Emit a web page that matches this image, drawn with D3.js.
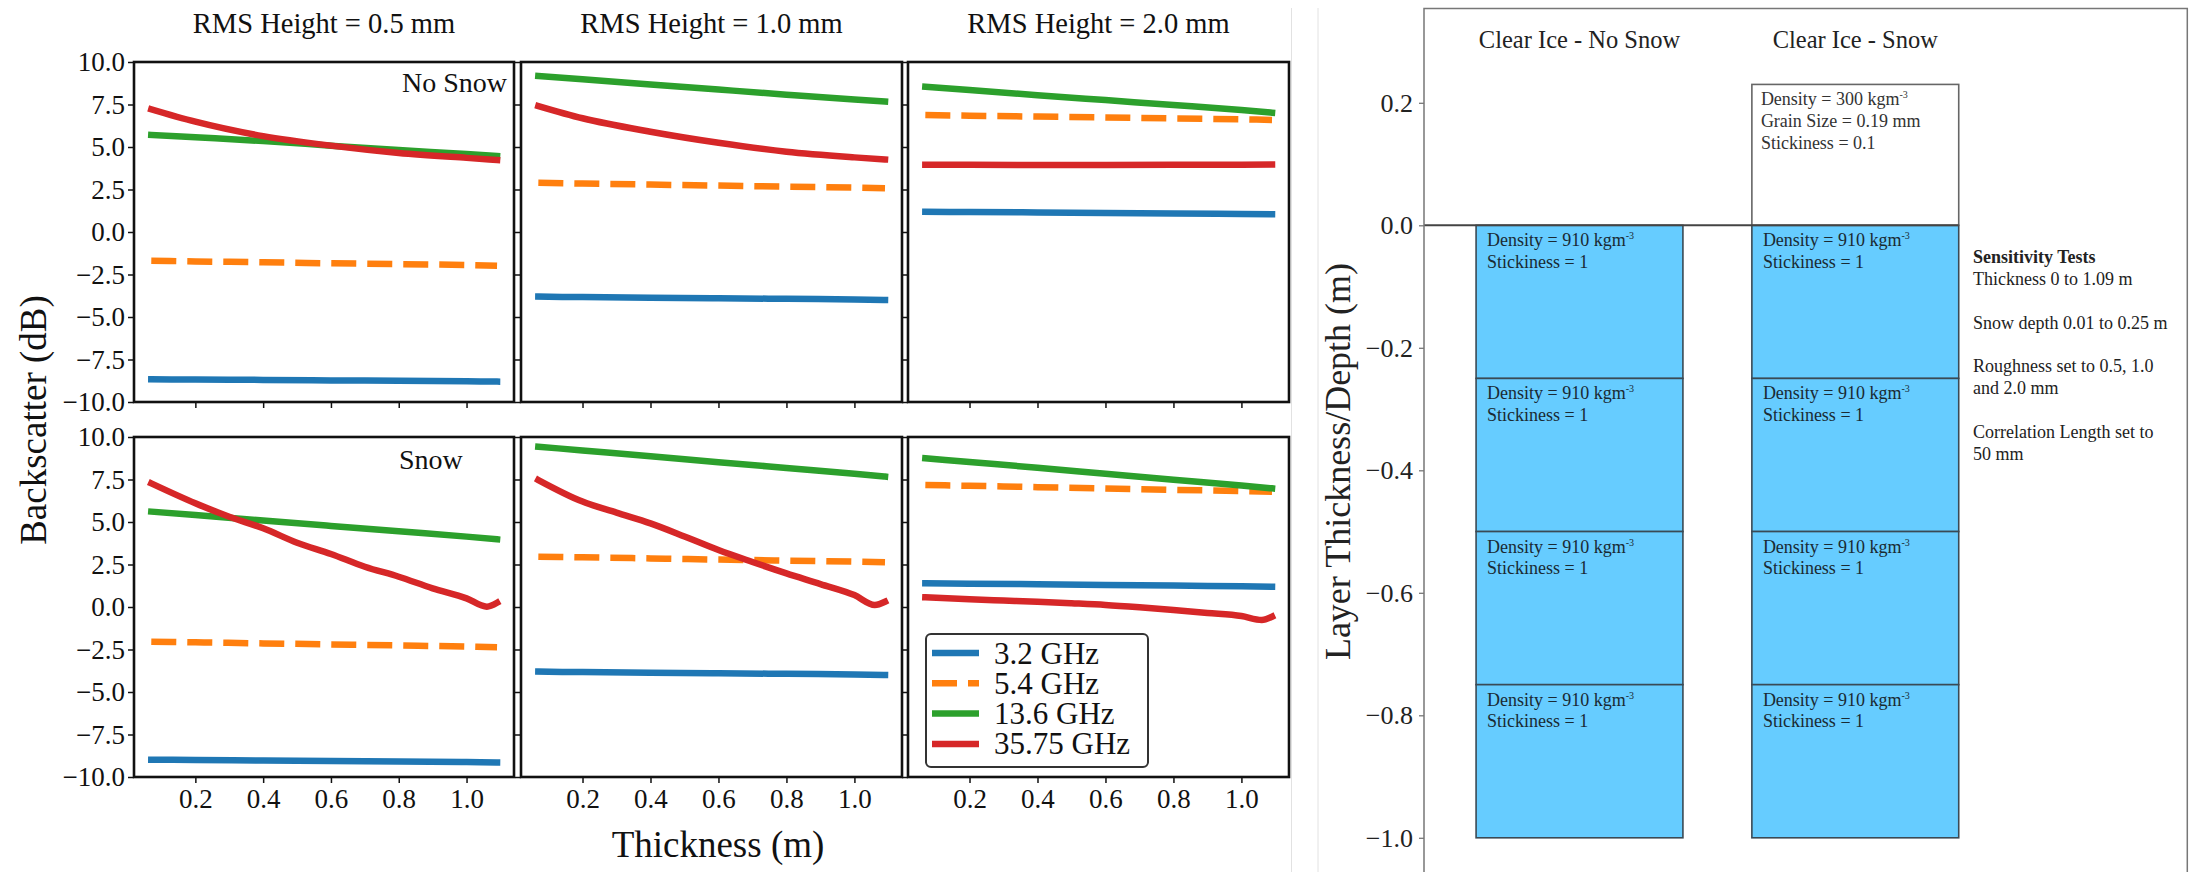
<!DOCTYPE html>
<html>
<head>
<meta charset="utf-8">
<script src="https://cdn.jsdelivr.net/npm/d3@7"></script>
<style>
body{margin:0;background:#fff}
svg{display:block}
text{font-family:"Liberation Serif","Times New Roman",serif}
</style>
</head>
<body>
<svg id="c" width="2191" height="872"></svg>
<script>
// ---------- DATA: left chart (Backscatter vs thickness) ----------
const thickness = [0.07, 0.2, 0.4, 0.6, 0.8, 1.0, 1.09];
const thicknessFine = [0.07, 0.2, 0.3, 0.4, 0.5, 0.6, 0.7, 0.8, 0.9, 1.0, 1.06, 1.09];
const frequencies = ["3.2 GHz", "5.4 GHz", "13.6 GHz", "35.75 GHz"];
const panelTitles = ["RMS Height = 0.5 mm", "RMS Height = 1.0 mm", "RMS Height = 2.0 mm"];
const rowLabels = ["No Snow", "Snow"];
const yTickValues = [-10, -7.5, -5, -2.5, 0, 2.5, 5, 7.5, 10];
const xTickValues = [0.2, 0.4, 0.6, 0.8, 1.0];

// No snow, RMS 0.5 mm
const noSnow05_f32   = [-8.66, -8.68, -8.70, -8.73, -8.75, -8.78, -8.80];
const noSnow05_f54   = [-1.69, -1.73, -1.78, -1.84, -1.89, -1.94, -1.98];
const noSnow05_f136  = [5.71, 5.57, 5.35, 5.08, 4.82, 4.59, 4.47];
const noSnow05_f3575 = [7.22, 6.49, 5.64, 5.08, 4.65, 4.36, 4.24];
// No snow, RMS 1.0 mm
const noSnow10_f32   = [-3.80, -3.83, -3.87, -3.90, -3.93, -3.97, -4.00];
const noSnow10_f54   = [2.90, 2.85, 2.79, 2.73, 2.67, 2.61, 2.57];
const noSnow10_f136  = [9.18, 8.98, 8.68, 8.38, 8.08, 7.79, 7.67];
const noSnow10_f3575 = [7.41, 6.69, 5.90, 5.25, 4.72, 4.39, 4.27];
// No snow, RMS 2.0 mm
const noSnow20_f32   = [1.19, 1.17, 1.15, 1.12, 1.09, 1.06, 1.04];
const noSnow20_f54   = [6.88, 6.84, 6.79, 6.74, 6.68, 6.63, 6.59];
const noSnow20_f136  = [8.55, 8.35, 8.05, 7.76, 7.47, 7.17, 7.02];
const noSnow20_f3575 = [3.96, 3.95, 3.94, 3.94, 3.95, 3.96, 3.97];
// Snow, RMS 0.5 mm
const snow05_f32   = [-8.98, -9.00, -9.03, -9.06, -9.09, -9.12, -9.14];
const snow05_f54   = [-2.04, -2.08, -2.14, -2.20, -2.26, -2.33, -2.37];
const snow05_f136  = [5.61, 5.41, 5.09, 4.77, 4.45, 4.14, 3.98];
const snow05_f3575 = [7.27, 6.10, 5.31, 4.63, 3.78, 3.12, 2.37, 1.78, 1.10, 0.51, 0.02, 0.25];
// Snow, RMS 1.0 mm
const snow10_f32   = [-3.80, -3.83, -3.87, -3.90, -3.93, -3.97, -4.00];
const snow10_f54   = [2.96, 2.92, 2.86, 2.79, 2.73, 2.67, 2.63];
const snow10_f136  = [9.43, 9.21, 8.87, 8.52, 8.18, 7.84, 7.67];
const snow10_f3575 = [7.47, 6.20, 5.55, 4.92, 4.15, 3.35, 2.65, 1.98, 1.35, 0.70, 0.12, 0.31];
// Snow, RMS 2.0 mm
const snow20_f32   = [1.39, 1.37, 1.34, 1.30, 1.26, 1.22, 1.19];
const snow20_f54   = [7.18, 7.13, 7.05, 6.97, 6.89, 6.82, 6.78];
const snow20_f136  = [8.75, 8.53, 8.19, 7.84, 7.49, 7.15, 6.98];
const snow20_f3575 = [0.57, 0.45, 0.38, 0.31, 0.22, 0.12, -0.02, -0.18, -0.35, -0.53, -0.76, -0.57];

// ---------- DATA: right diagram (layer structure) ----------
const columnTitles = ["Clear Ice - No Snow", "Clear Ice - Snow"];
const depthTicks = [-1.0, -0.8, -0.6, -0.4, -0.2, 0.0, 0.2];
const iceLayerEdges = [0, -0.25, -0.5, -0.75, -1.0];
const snowLayerTop = 0.23;
const iceLayerText = ["Density = 910 kgm", "Stickiness = 1"];
const snowLayerText = ["Density = 300 kgm", "Grain Size = 0.19 mm", "Stickiness = 0.1"];
const sensitivityText = ["Sensitivity Tests", "Thickness 0 to 1.09 m", "", "Snow depth 0.01 to 0.25 m", "",
  "Roughness set to 0.5, 1.0", "and 2.0 mm", "", "Correlation Length set to", "50 mm"];

// ---------- STYLE / LAYOUT ----------
const seriesColors = ["#1f77b4", "#ff7f0e", "#2ca02c", "#d62728"];
const FONT = '"Liberation Serif","Times New Roman",serif';
const colX = [[134, 514], [521, 902], [908, 1289]];
const rowY = [[62, 402], [437, 777]];
const xDomain = [0.019, 1.14];

const svg = d3.select("#c");

const panels = [
  {row: 0, col: 0, series: [[thickness, noSnow05_f32], [thickness, noSnow05_f54], [thickness, noSnow05_f136], [thickness, noSnow05_f3575]]},
  {row: 0, col: 1, series: [[thickness, noSnow10_f32], [thickness, noSnow10_f54], [thickness, noSnow10_f136], [thickness, noSnow10_f3575]]},
  {row: 0, col: 2, series: [[thickness, noSnow20_f32], [thickness, noSnow20_f54], [thickness, noSnow20_f136], [thickness, noSnow20_f3575]]},
  {row: 1, col: 0, series: [[thickness, snow05_f32], [thickness, snow05_f54], [thickness, snow05_f136], [thicknessFine, snow05_f3575]]},
  {row: 1, col: 1, series: [[thickness, snow10_f32], [thickness, snow10_f54], [thickness, snow10_f136], [thicknessFine, snow10_f3575]]},
  {row: 1, col: 2, series: [[thickness, snow20_f32], [thickness, snow20_f54], [thickness, snow20_f136], [thicknessFine, snow20_f3575]]}
];

const defs = svg.append("defs");

panels.forEach((p, i) => {
  const [x0, x1] = colX[p.col], [y0, y1] = rowY[p.row];
  const x = d3.scaleLinear().domain(xDomain).range([x0, x1]);
  const y = d3.scaleLinear().domain([-10, 10]).range([y1, y0]);
  const g = svg.append("g");
  const cid = "clip" + i;
  defs.append("clipPath").attr("id", cid).append("rect")
    .attr("x", x0).attr("y", y0).attr("width", x1 - x0).attr("height", y1 - y0);
  const lg = g.append("g").attr("clip-path", `url(#${cid})`);
  const line = d3.line().x(d => x(d[0])).y(d => y(d[1])).curve(d3.curveMonotoneX);
  p.series.forEach(([xs, ys], k) => {
    const pts = xs.map((t, j) => [t, ys[j]]);
    lg.append("path").attr("d", line(pts))
      .attr("fill", "none").attr("stroke", seriesColors[k]).attr("stroke-width", 6.5)
      .attr("stroke-linecap", k === 1 ? "butt" : "square").attr("stroke-linejoin", "round")
      .attr("stroke-dasharray", k === 1 ? "25,11" : null);
  });
  const ya = d3.axisLeft(y).tickValues(yTickValues).tickSize(6).tickPadding(3)
    .tickFormat(p.col === 0 ? d3.format(".1f") : () => "");
  g.append("g").attr("transform", `translate(${x0},0)`).call(ya).call(s => s.select(".domain").remove());
  const xa = d3.axisBottom(x).tickValues(xTickValues).tickSize(6).tickPadding(6)
    .tickFormat(p.row === 1 ? d3.format(".1f") : () => "");
  g.append("g").attr("transform", `translate(0,${y1})`).call(xa).call(s => s.select(".domain").remove());
  g.selectAll(".tick text").attr("font-size", 27).attr("font-family", FONT).attr("fill", "#111");
  g.selectAll(".tick line").attr("stroke", "#111").attr("stroke-width", 1.5);
  g.append("rect").attr("x", x0).attr("y", y0).attr("width", x1 - x0).attr("height", y1 - y0)
    .attr("fill", "none").attr("stroke", "#111").attr("stroke-width", 2.6);
  if (p.row === 0) {
    svg.append("text").attr("x", (x0 + x1) / 2).attr("y", 33).attr("text-anchor", "middle")
      .attr("font-size", 28.5).attr("fill", "#111").text(panelTitles[p.col]);
  }
  if (p.col === 0) {
    svg.append("text").attr("x", p.row === 0 ? 402 : 399).attr("y", p.row === 0 ? 92 : 469)
      .attr("font-size", 28).attr("fill", "#111").text(rowLabels[p.row]);
  }
});

// axis labels (left chart)
svg.append("text").attr("transform", "translate(46,420) rotate(-90)").attr("text-anchor", "middle")
  .attr("font-size", 37).attr("fill", "#111").text("Backscatter (dB)");
svg.append("text").attr("x", 718).attr("y", 857).attr("text-anchor", "middle")
  .attr("font-size", 37).attr("fill", "#111").text("Thickness (m)");

// legend
const lgd = svg.append("g");
lgd.append("rect").attr("x", 926).attr("y", 634).attr("width", 222).attr("height", 133).attr("rx", 5)
  .attr("fill", "#fff").attr("stroke", "#333").attr("stroke-width", 2);
frequencies.forEach((f, k) => {
  const cy = 653 + k * 30.3;
  lgd.append("line").attr("x1", 932).attr("x2", 979).attr("y1", cy).attr("y2", cy)
    .attr("stroke", seriesColors[k]).attr("stroke-width", 6.5)
    .attr("stroke-dasharray", k === 1 ? "25,11" : null);
  lgd.append("text").attr("x", 994).attr("y", cy).attr("dy", "0.34em").attr("font-size", 31)
    .attr("fill", "#111").text(f);
});

// ---------- RIGHT DIAGRAM ----------
// image edges
[1291.5, 1318].forEach(xx => svg.append("line").attr("x1", xx).attr("x2", xx).attr("y1", 8).attr("y2", 872)
  .attr("stroke", "#e2e2e2").attr("stroke-width", 1));

const yD = d3.scaleLinear().domain([-1.0, 0.2]).range([837.8, 102.8]);
const xD = d3.scaleLinear().domain([0, 1]).range([1579.5, 1855.3]);
const barW = 0.75;
const axL = 1424, axR = 2187.3, axT = yD(0.354);

const rg = svg.append("g");
[0, 1].forEach(c => {
  const bx0 = xD(c - barW / 2), bx1 = xD(c + barW / 2);
  for (let i = 0; i < iceLayerEdges.length - 1; i++) {
    const top = yD(iceLayerEdges[i]), bot = yD(iceLayerEdges[i + 1]);
    rg.append("rect").attr("x", bx0).attr("y", top).attr("width", bx1 - bx0).attr("height", bot - top)
      .attr("fill", "#66ccff").attr("stroke", "#3a4a55").attr("stroke-width", 1.6);
    iceLayerText.forEach((t, j) => {
      const tx = rg.append("text").attr("x", bx0 + 11).attr("y", top + 21 + j * 21.7)
        .attr("font-size", 18).attr("fill", "#1a2a33").text(t);
      if (j === 0) tx.append("tspan").attr("dy", -7).attr("font-size", 10).text("-3");
    });
  }
  if (c === 1) {
    const top = yD(snowLayerTop), bot = yD(0);
    rg.append("rect").attr("x", bx0).attr("y", top).attr("width", bx1 - bx0).attr("height", bot - top)
      .attr("fill", "#fff").attr("stroke", "#666").attr("stroke-width", 1.6);
    snowLayerText.forEach((t, j) => {
      const tx = rg.append("text").attr("x", bx0 + 9).attr("y", top + 21 + j * 21.8)
        .attr("font-size", 18).attr("fill", "#333").text(t);
      if (j === 0) tx.append("tspan").attr("dy", -7).attr("font-size", 10).text("-3");
    });
  }
  rg.append("text").attr("x", xD(c)).attr("y", 47.7).attr("text-anchor", "middle")
    .attr("font-size", 24.5).attr("fill", "#222").text(columnTitles[c]);
});
// surface line
rg.append("line").attr("x1", axL).attr("x2", xD(1 + barW / 2)).attr("y1", yD(0)).attr("y2", yD(0))
  .attr("stroke", "#444").attr("stroke-width", 2);

// spines
rg.append("path").attr("d", `M${axL},872V${axT}H${axR}V872`).attr("fill", "none")
  .attr("stroke", "#777").attr("stroke-width", 1.5);
const yaD = d3.axisLeft(yD).tickValues(depthTicks).tickSize(5).tickPadding(6).tickFormat(d3.format(".1f"));
const yaG = rg.append("g").attr("transform", `translate(${axL},0)`).call(yaD);
yaG.select(".domain").remove();
yaG.selectAll(".tick text").attr("font-size", 26).attr("font-family", FONT).attr("fill", "#222");
yaG.selectAll(".tick line").attr("stroke", "#777").attr("stroke-width", 1.3);

rg.append("text").attr("transform", "translate(1350,461.5) rotate(-90)").attr("text-anchor", "middle")
  .attr("font-size", 36).attr("fill", "#222").text("Layer Thickness/Depth (m)");

// sensitivity tests text
sensitivityText.forEach((t, j) => {
  if (!t) return;
  rg.append("text").attr("x", 1973).attr("y", 263.3 + j * 21.8).attr("font-size", 18)
    .attr("font-weight", j === 0 ? "bold" : "normal").attr("fill", "#222").text(t);
});
</script>
</body>
</html>
